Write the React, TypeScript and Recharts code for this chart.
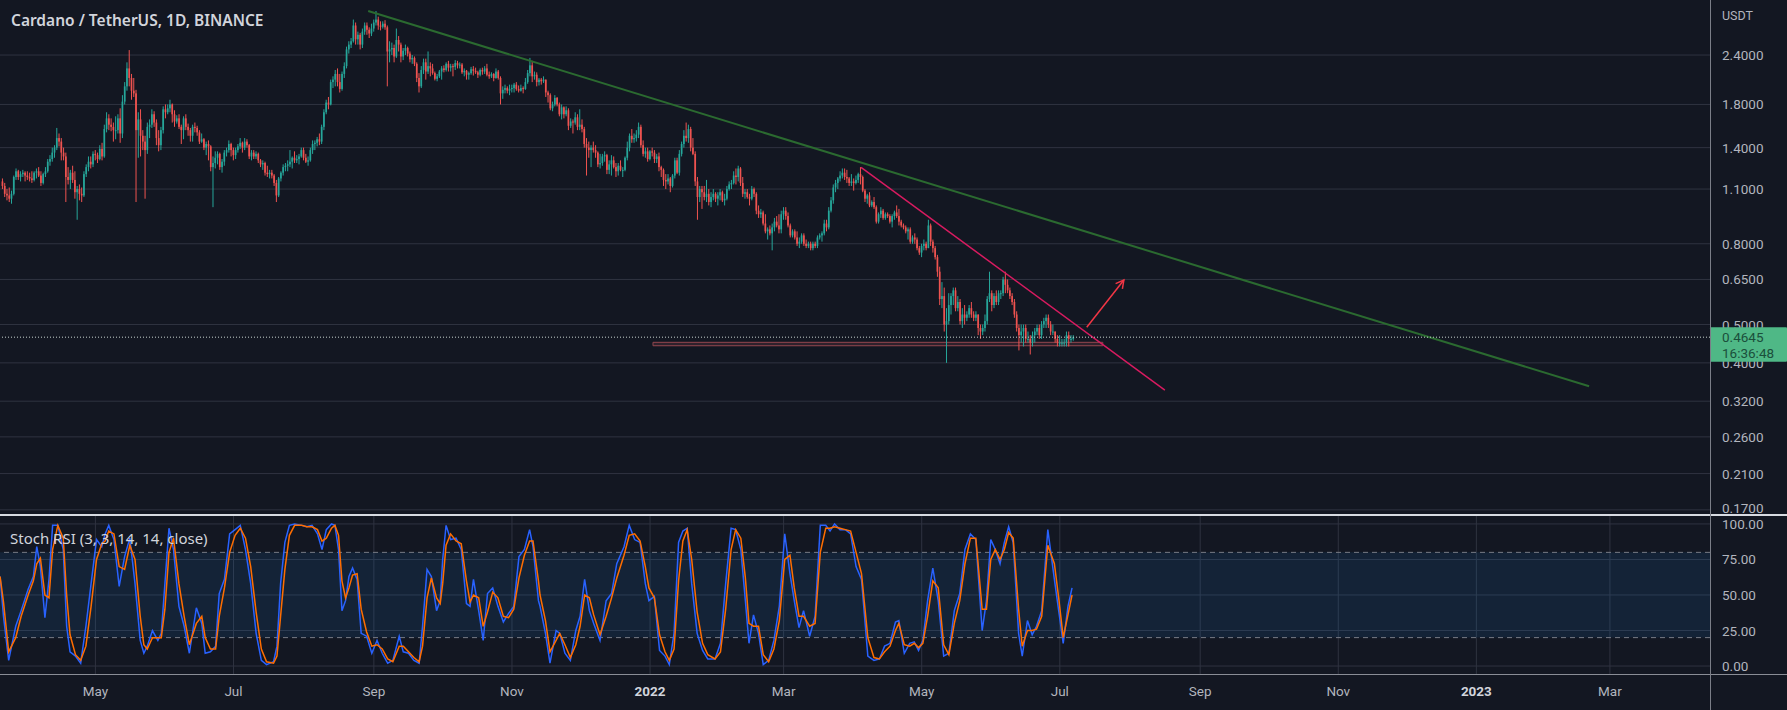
import React from 'react';
import { ComposedChart, Bar, Line, XAxis, YAxis, CartesianGrid, ReferenceLine, ReferenceArea } from 'recharts';

// layout
const W = 1787;
const PRICE_H = 515;
const RSI_H = 195;
const AXIS_W = 77;

const BG = '#131722';
const GRID = '#2f3340';
const TEXT = '#b2b5be';
const UP = '#26a69a';
const DOWN = '#ef5350';
const FONT = 'Roboto, "Noto Sans", sans-serif';

// days are counted from 2021-05-01
const firstDay = -41; // 2021-03-21
const dayDomain = [-42.14, 713.2];
const monthTicks = [0, 61, 123, 184, 245, 304, 365, 426, 488, 549, 610, 669];
const monthLabels = ['May', 'Jul', 'Sep', 'Nov', '2022', 'Mar', 'May', 'Jul', 'Sep', 'Nov', '2023', 'Mar'];

const priceDomain = [0.165, 3.306];
const priceTicks = [2.4, 1.8, 1.4, 1.1, 0.8, 0.65, 0.5, 0.4, 0.32, 0.26, 0.21, 0.17];
const lastPrice = 0.4645;
const countdown = '16:36:48';

const rsiDomain = [-5.6, 106.3];
const rsiTicks = [0, 25, 50, 75, 100];

// daily candles [open, high, low, close]
const mar2021 = [
  [1.15,1.17,1.10,1.12],[1.12,1.14,1.05,1.07],[1.07,1.10,1.03,1.06],[1.06,1.11,1.02,1.04],[1.04,1.09,1.01,1.07],[1.07,1.19,1.06,1.18],[1.18,1.24,1.16,1.22],
  [1.22,1.23,1.16,1.18],[1.18,1.22,1.15,1.20],[1.20,1.23,1.18,1.21],[1.21,1.22,1.15,1.19],
];
const apr2021 = [
  [1.19,1.22,1.16,1.18],[1.18,1.21,1.15,1.17],[1.17,1.22,1.14,1.16],[1.16,1.22,1.15,1.21],[1.21,1.24,1.17,1.22],[1.22,1.25,1.18,1.19],[1.19,1.22,1.12,1.14],
  [1.14,1.21,1.13,1.20],[1.20,1.25,1.18,1.22],[1.22,1.31,1.21,1.29],[1.29,1.34,1.26,1.31],[1.31,1.40,1.29,1.36],[1.36,1.42,1.32,1.40],[1.40,1.57,1.38,1.48],
  [1.48,1.52,1.41,1.45],[1.45,1.48,1.30,1.36],[1.36,1.40,1.30,1.33],[1.33,1.36,1.02,1.18],[1.18,1.25,1.13,1.16],[1.16,1.23,1.10,1.21],[1.21,1.26,1.14,1.16],
  [1.16,1.22,1.04,1.08],[1.08,1.12,0.92,1.10],[1.10,1.13,1.03,1.07],[1.07,1.11,1.02,1.06],[1.06,1.22,1.05,1.20],[1.20,1.27,1.18,1.25],[1.25,1.33,1.22,1.29],
  [1.29,1.33,1.24,1.27],[1.27,1.37,1.25,1.35],
];
const may2021 = [
  [1.35,1.38,1.30,1.34],[1.34,1.36,1.28,1.31],[1.31,1.42,1.30,1.39],[1.39,1.44,1.30,1.33],[1.33,1.60,1.32,1.56],[1.56,1.72,1.53,1.66],[1.66,1.70,1.55,1.60],
  [1.60,1.66,1.54,1.58],[1.58,1.62,1.45,1.55],[1.55,1.68,1.47,1.55],[1.55,1.70,1.52,1.66],[1.66,1.76,1.44,1.52],[1.52,1.90,1.48,1.83],[1.83,2.05,1.80,2.00],
  [2.00,2.30,1.95,2.22],[2.22,2.47,2.00,2.10],[2.10,2.15,1.85,1.95],[1.95,2.10,1.88,1.92],[1.92,1.96,1.02,1.55],[1.55,1.72,1.32,1.65],[1.65,1.75,1.33,1.50],
  [1.50,1.55,1.38,1.45],[1.45,1.50,1.04,1.38],[1.38,1.62,1.35,1.58],[1.58,1.65,1.48,1.60],[1.60,1.75,1.57,1.70],[1.70,1.73,1.58,1.62],[1.62,1.65,1.42,1.48],
  [1.48,1.55,1.37,1.42],[1.42,1.58,1.38,1.55],[1.55,1.78,1.52,1.75],
];
const jun2021 = [
  [1.75,1.80,1.66,1.72],[1.72,1.80,1.70,1.76],[1.76,1.85,1.72,1.80],[1.80,1.81,1.62,1.70],[1.70,1.74,1.58,1.63],[1.63,1.69,1.61,1.66],[1.66,1.70,1.56,1.58],
  [1.58,1.60,1.43,1.55],[1.55,1.68,1.47,1.66],[1.66,1.70,1.55,1.58],[1.58,1.61,1.50,1.55],[1.55,1.57,1.45,1.50],[1.50,1.60,1.45,1.58],[1.58,1.62,1.53,1.57],
  [1.57,1.59,1.50,1.53],[1.53,1.55,1.43,1.45],[1.45,1.52,1.44,1.47],[1.47,1.48,1.38,1.40],[1.40,1.45,1.34,1.43],[1.43,1.46,1.30,1.41],[1.41,1.42,1.22,1.25],
  [1.25,1.33,0.99,1.28],[1.28,1.37,1.24,1.32],[1.32,1.37,1.27,1.35],[1.35,1.36,1.23,1.25],[1.25,1.31,1.21,1.29],[1.29,1.38,1.26,1.36],[1.36,1.40,1.33,1.38],
  [1.38,1.46,1.36,1.43],[1.43,1.44,1.33,1.38],
];
const jul2021 = [
  [1.38,1.40,1.30,1.34],[1.34,1.40,1.31,1.38],[1.38,1.43,1.36,1.41],[1.41,1.48,1.39,1.44],[1.44,1.45,1.36,1.40],[1.40,1.48,1.38,1.45],[1.45,1.47,1.40,1.42],
  [1.42,1.43,1.31,1.33],[1.33,1.38,1.30,1.36],[1.36,1.38,1.31,1.33],[1.33,1.37,1.31,1.35],[1.35,1.36,1.28,1.30],[1.30,1.31,1.25,1.27],[1.27,1.30,1.23,1.28],
  [1.28,1.29,1.19,1.21],[1.21,1.26,1.18,1.20],[1.20,1.23,1.17,1.21],[1.21,1.23,1.17,1.19],[1.19,1.20,1.12,1.14],[1.14,1.16,1.02,1.06],[1.06,1.18,1.05,1.17],
  [1.17,1.22,1.15,1.21],[1.21,1.27,1.19,1.25],[1.25,1.28,1.22,1.26],[1.26,1.30,1.22,1.27],[1.27,1.38,1.25,1.29],[1.29,1.33,1.24,1.32],[1.32,1.37,1.28,1.30],
  [1.30,1.34,1.28,1.31],[1.31,1.35,1.27,1.33],[1.33,1.40,1.32,1.38],
];
const aug2021 = [
  [1.38,1.40,1.30,1.32],[1.32,1.35,1.28,1.29],[1.29,1.33,1.26,1.30],[1.30,1.40,1.29,1.38],[1.38,1.46,1.35,1.43],[1.43,1.46,1.38,1.44],[1.44,1.49,1.41,1.47],
  [1.47,1.52,1.42,1.45],[1.45,1.60,1.43,1.58],[1.58,1.75,1.55,1.72],[1.72,1.85,1.70,1.82],[1.82,1.88,1.75,1.80],[1.80,2.08,1.79,2.05],[2.05,2.12,1.98,2.08],
  [2.08,2.20,2.00,2.15],[2.15,2.22,2.00,2.05],[2.05,2.15,1.93,1.97],[1.97,2.18,1.95,2.15],[2.15,2.30,2.10,2.25],[2.25,2.52,2.22,2.48],[2.48,2.60,2.42,2.55],
  [2.55,2.65,2.50,2.60],[2.60,2.95,2.58,2.85],[2.85,2.90,2.55,2.63],[2.63,2.75,2.55,2.70],[2.70,2.73,2.48,2.55],[2.55,2.80,2.50,2.75],[2.75,2.90,2.70,2.85],
  [2.85,2.90,2.70,2.78],[2.78,2.82,2.65,2.72],[2.72,2.88,2.68,2.80],
];
const sep2021 = [
  [2.80,2.95,2.75,2.90],[2.90,3.10,2.85,2.95],[2.95,3.00,2.78,2.85],[2.85,2.92,2.77,2.83],[2.83,2.92,2.80,2.88],[2.88,2.94,2.78,2.82],[2.82,2.85,2.00,2.45],
  [2.45,2.60,2.30,2.48],[2.48,2.58,2.40,2.50],[2.50,2.55,2.30,2.38],[2.38,2.80,2.36,2.62],[2.62,2.68,2.45,2.55],[2.55,2.58,2.30,2.38],[2.38,2.50,2.33,2.46],
  [2.46,2.55,2.40,2.50],[2.50,2.52,2.38,2.42],[2.42,2.45,2.30,2.34],[2.34,2.40,2.28,2.36],[2.36,2.38,2.25,2.28],[2.28,2.30,2.05,2.10],[2.10,2.16,1.93,2.00],
  [2.00,2.25,1.98,2.20],[2.20,2.35,2.15,2.30],[2.30,2.35,2.08,2.18],[2.18,2.45,2.15,2.25],[2.25,2.30,2.12,2.22],[2.22,2.28,2.14,2.16],[2.16,2.18,2.07,2.09],
  [2.09,2.15,2.06,2.12],[2.12,2.20,2.10,2.18],
];
const oct2021 = [
  [2.18,2.25,2.08,2.22],[2.22,2.26,2.17,2.20],[2.20,2.30,2.18,2.28],[2.28,2.32,2.18,2.23],[2.23,2.28,2.18,2.25],[2.25,2.28,2.12,2.24],[2.24,2.33,2.20,2.29],
  [2.29,2.32,2.22,2.26],[2.26,2.30,2.22,2.27],[2.27,2.29,2.15,2.17],[2.17,2.22,2.12,2.19],[2.19,2.20,2.08,2.14],[2.14,2.18,2.08,2.16],[2.16,2.24,2.14,2.21],
  [2.21,2.25,2.13,2.19],[2.19,2.23,2.15,2.17],[2.17,2.19,2.10,2.14],[2.14,2.22,2.12,2.20],[2.20,2.23,2.14,2.18],[2.18,2.25,2.15,2.22],[2.22,2.28,2.12,2.14],
  [2.14,2.18,2.09,2.12],[2.12,2.17,2.10,2.15],[2.15,2.16,2.06,2.10],[2.10,2.22,2.09,2.18],[2.18,2.20,2.08,2.10],[2.10,2.12,1.80,1.92],[1.92,2.00,1.86,1.96],
  [1.96,2.02,1.92,1.98],[1.98,2.00,1.92,1.95],[1.95,2.02,1.90,1.97],
];
const nov2021 = [
  [1.97,2.02,1.93,1.98],[1.98,2.04,1.93,2.02],[2.02,2.05,1.95,1.97],[1.97,2.01,1.93,1.95],[1.95,2.02,1.94,1.98],[1.98,2.00,1.92,1.97],[1.97,2.10,1.96,2.05],
  [2.05,2.20,2.03,2.16],[2.16,2.36,2.12,2.26],[2.26,2.32,2.05,2.12],[2.12,2.18,2.08,2.14],[2.14,2.17,2.00,2.05],[2.05,2.10,2.01,2.08],[2.08,2.10,2.02,2.06],
  [2.06,2.12,2.04,2.08],[2.08,2.08,1.88,1.93],[1.93,1.95,1.82,1.90],[1.90,1.92,1.74,1.76],[1.76,1.83,1.73,1.80],[1.80,1.90,1.78,1.87],[1.87,1.88,1.78,1.80],
  [1.80,1.82,1.68,1.70],[1.70,1.80,1.65,1.77],[1.77,1.78,1.66,1.70],[1.70,1.78,1.68,1.74],[1.74,1.76,1.55,1.59],[1.59,1.66,1.57,1.63],[1.63,1.65,1.52,1.62],
  [1.62,1.72,1.60,1.67],[1.67,1.70,1.55,1.58],
];
const dec2021 = [
  [1.58,1.75,1.55,1.60],[1.60,1.65,1.53,1.56],[1.56,1.58,1.40,1.43],[1.43,1.48,1.19,1.40],[1.40,1.45,1.32,1.38],[1.38,1.42,1.25,1.40],[1.40,1.45,1.36,1.38],
  [1.38,1.42,1.32,1.36],[1.36,1.37,1.25,1.27],[1.27,1.35,1.24,1.28],[1.28,1.35,1.26,1.33],[1.33,1.37,1.29,1.34],[1.34,1.35,1.20,1.23],[1.23,1.30,1.20,1.27],
  [1.27,1.34,1.19,1.30],[1.30,1.33,1.24,1.25],[1.25,1.28,1.18,1.22],[1.22,1.28,1.19,1.26],[1.26,1.30,1.22,1.23],[1.23,1.25,1.18,1.23],[1.23,1.33,1.22,1.32],
  [1.32,1.45,1.30,1.40],[1.40,1.52,1.37,1.50],[1.50,1.56,1.44,1.47],[1.47,1.52,1.44,1.48],[1.48,1.55,1.45,1.51],[1.51,1.62,1.48,1.58],[1.58,1.60,1.40,1.42],
  [1.42,1.46,1.33,1.35],[1.35,1.40,1.32,1.37],[1.37,1.40,1.29,1.31],
];
const jan2022 = [
  [1.31,1.38,1.30,1.37],[1.37,1.40,1.33,1.36],[1.36,1.38,1.28,1.31],[1.31,1.35,1.28,1.33],[1.33,1.36,1.22,1.25],[1.25,1.26,1.18,1.23],[1.23,1.24,1.12,1.16],
  [1.16,1.20,1.10,1.15],[1.15,1.20,1.13,1.17],[1.17,1.18,1.08,1.12],[1.12,1.20,1.11,1.19],[1.19,1.32,1.17,1.30],[1.30,1.32,1.20,1.21],[1.21,1.38,1.19,1.35],
  [1.35,1.45,1.33,1.43],[1.43,1.55,1.40,1.50],[1.50,1.62,1.45,1.48],[1.48,1.60,1.44,1.56],[1.56,1.58,1.37,1.40],[1.40,1.48,1.34,1.35],[1.35,1.37,1.12,1.15],
  [1.15,1.18,0.92,1.05],[1.05,1.12,1.02,1.10],[1.10,1.12,0.98,1.08],[1.08,1.12,1.03,1.05],[1.05,1.16,1.02,1.07],[1.07,1.10,1.00,1.02],[1.02,1.08,0.99,1.05],
  [1.05,1.10,1.03,1.07],[1.07,1.08,1.02,1.04],[1.04,1.08,1.00,1.06],
];
const feb2022 = [
  [1.06,1.10,1.03,1.08],[1.08,1.09,1.02,1.03],[1.03,1.07,1.00,1.04],[1.04,1.12,1.03,1.10],[1.10,1.15,1.09,1.13],[1.13,1.16,1.10,1.14],[1.14,1.22,1.13,1.19],
  [1.19,1.24,1.13,1.18],[1.18,1.26,1.15,1.24],[1.24,1.25,1.12,1.14],[1.14,1.18,1.05,1.07],[1.07,1.10,1.04,1.08],[1.08,1.10,1.04,1.05],[1.05,1.07,1.00,1.04],
  [1.04,1.12,1.03,1.10],[1.10,1.11,1.05,1.07],[1.07,1.08,0.95,0.97],[0.97,1.00,0.93,0.95],[0.95,0.98,0.93,0.96],[0.96,0.97,0.89,0.90],[0.90,0.95,0.85,0.86],
  [0.86,0.88,0.82,0.87],[0.87,0.89,0.84,0.85],[0.85,0.90,0.77,0.88],[0.88,0.93,0.86,0.91],[0.91,0.94,0.88,0.89],[0.89,0.95,0.85,0.87],[0.87,0.97,0.85,0.95],
];
const mar2022 = [
  [0.95,0.99,0.92,0.97],[0.97,0.99,0.92,0.94],[0.94,0.96,0.88,0.89],[0.89,0.90,0.83,0.84],[0.84,0.87,0.83,0.86],[0.86,0.87,0.82,0.83],[0.83,0.86,0.79,0.80],
  [0.80,0.83,0.78,0.81],[0.81,0.85,0.80,0.84],[0.84,0.85,0.79,0.80],[0.80,0.82,0.78,0.79],[0.79,0.81,0.78,0.80],[0.80,0.81,0.77,0.78],[0.78,0.81,0.77,0.80],
  [0.80,0.81,0.78,0.79],[0.79,0.84,0.78,0.83],[0.83,0.85,0.82,0.84],[0.84,0.86,0.81,0.85],[0.85,0.92,0.84,0.90],[0.90,0.92,0.86,0.88],[0.88,0.99,0.87,0.97],
  [0.97,1.05,0.96,1.03],[1.03,1.13,1.01,1.11],[1.11,1.16,1.08,1.14],[1.14,1.18,1.10,1.17],[1.17,1.22,1.15,1.19],[1.19,1.24,1.17,1.21],[1.21,1.24,1.16,1.18],
  [1.18,1.23,1.14,1.17],[1.17,1.18,1.12,1.14],[1.14,1.20,1.12,1.15],
];
const apr2022 = [
  [1.15,1.17,1.09,1.14],[1.14,1.19,1.13,1.16],[1.16,1.21,1.14,1.20],[1.20,1.25,1.13,1.18],[1.18,1.19,1.08,1.09],[1.09,1.10,1.02,1.04],[1.04,1.07,1.01,1.06],
  [1.06,1.08,0.99,1.00],[1.00,1.03,0.99,1.02],[1.02,1.05,0.98,0.99],[0.99,1.00,0.90,0.91],[0.91,0.96,0.90,0.95],[0.95,0.99,0.93,0.97],[0.97,0.98,0.92,0.93],
  [0.93,0.96,0.92,0.95],[0.95,0.96,0.93,0.94],[0.94,0.95,0.90,0.91],[0.91,0.95,0.88,0.94],[0.94,0.97,0.92,0.96],[0.96,1.00,0.93,0.94],[0.94,0.98,0.89,0.91],
  [0.91,0.92,0.88,0.89],[0.89,0.90,0.87,0.88],[0.88,0.89,0.85,0.86],[0.86,0.88,0.82,0.87],[0.87,0.88,0.80,0.81],[0.81,0.84,0.80,0.83],[0.83,0.85,0.80,0.82],
  [0.82,0.83,0.77,0.78],[0.78,0.79,0.75,0.76],
];
const may2022 = [
  [0.76,0.80,0.74,0.79],[0.79,0.82,0.77,0.80],[0.80,0.81,0.77,0.78],[0.78,0.92,0.78,0.89],[0.89,0.90,0.79,0.81],[0.81,0.82,0.76,0.78],[0.78,0.79,0.73,0.74],
  [0.74,0.75,0.66,0.68],[0.68,0.70,0.56,0.58],[0.58,0.64,0.55,0.59],[0.59,0.62,0.48,0.50],[0.50,0.55,0.40,0.51],[0.51,0.60,0.50,0.56],[0.56,0.60,0.53,0.59],
  [0.59,0.62,0.56,0.61],[0.61,0.62,0.54,0.55],[0.55,0.59,0.54,0.57],[0.57,0.58,0.50,0.51],[0.51,0.55,0.49,0.53],[0.53,0.56,0.50,0.52],[0.52,0.54,0.51,0.53],
  [0.53,0.56,0.52,0.55],[0.55,0.57,0.52,0.53],[0.53,0.54,0.51,0.52],[0.52,0.54,0.51,0.53],[0.53,0.53,0.47,0.49],[0.49,0.50,0.46,0.48],[0.48,0.50,0.47,0.49],
  [0.49,0.53,0.48,0.51],[0.51,0.59,0.50,0.58],[0.58,0.68,0.57,0.60],
];
const jun2022 = [
  [0.60,0.61,0.54,0.56],[0.56,0.60,0.55,0.59],[0.59,0.61,0.56,0.57],[0.57,0.61,0.56,0.60],[0.60,0.61,0.58,0.60],[0.60,0.66,0.59,0.65],[0.65,0.68,0.60,0.63],
  [0.63,0.65,0.60,0.61],[0.61,0.62,0.58,0.59],[0.59,0.60,0.56,0.57],[0.57,0.58,0.52,0.53],[0.53,0.54,0.48,0.49],[0.49,0.50,0.43,0.47],[0.47,0.50,0.45,0.48],
  [0.48,0.50,0.44,0.49],[0.49,0.50,0.45,0.46],[0.46,0.48,0.45,0.46],[0.46,0.47,0.42,0.45],[0.45,0.48,0.44,0.47],[0.47,0.49,0.45,0.48],[0.48,0.50,0.47,0.49],
  [0.49,0.50,0.46,0.47],[0.47,0.51,0.46,0.50],[0.50,0.52,0.49,0.51],[0.51,0.53,0.49,0.52],[0.52,0.53,0.49,0.50],[0.50,0.51,0.47,0.48],[0.48,0.50,0.47,0.48],
  [0.48,0.48,0.45,0.46],[0.46,0.47,0.44,0.45],
];
const jul2022 = [
  [0.45,0.47,0.44,0.45],[0.45,0.46,0.44,0.45],[0.45,0.46,0.44,0.45],[0.45,0.48,0.44,0.47],[0.47,0.48,0.44,0.46],[0.46,0.47,0.45,0.46],[0.46,0.47,0.455,0.4645],
];

// Stoch RSI (K blue, D orange), sampled along the pane
const rsiDays = [
  -42.1,-40.6,-38.3,-35.2,-32.8,-29.7,-27.4,-25.9,-24.3,-22.3,-20.5,-18.9,-16.6,-14.2,-12.7,-11.2,-8.8,-6.5,-4.2,-1.9,
  0.5,2.8,4.3,5.9,8.2,10.5,12.9,15.2,17.5,19.8,21.4,22.9,25.2,27.6,29.1,30.7,32.5,34.5,36.9,39.2,
  41.5,44.6,47.0,48.5,50.8,53.1,54.7,57.0,59.3,61.7,64.0,66.3,68.6,71.0,73.3,75.6,78.7,80.2,81.8,83.7,
  85.7,88.0,91.1,93.4,95.7,98.1,100.1,102.0,104.3,105.8,107.4,108.9,110.5,112.0,113.6,115.6,117.4,119.8,122.1,124.4,
  126.7,129.1,131.4,134.2,136.0,138.3,140.7,143.0,144.5,146.5,148.4,150.7,152.3,153.4,154.9,156.9,159.3,161.6,163.9,165.5,
  167.0,169.3,171.3,173.2,175.5,177.8,180.2,182.5,184.8,187.1,189.5,191.8,193.3,195.7,
  196.4,198.8,200.8,203.5,205.1,207.4,209.8,212.2,214.1,216.1,218.2,220.1,222.9,225.6,228.0,230.3,233.5,235.8,238.2,240.6,
  242.9,244.5,246.9,249.2,251.6,253.5,255.6,257.6,259.5,261.4,263.4,265.8,268.2,270.5,273.7,276.1,278.4,280.8,282.8,285.1,
  287.1,288.7,290.7,292.9,295.0,297.4,299.7,302.1,304.5,306.8,308.7,310.8,312.8,315.5,317.9,320.2,322.6,324.5,326.5,328.9,
  331.3,333.6,336.0,338.4,341.2,343.9,346.3,348.6,351.0,353.4,354.9,357.3,359.7,361.7,363.6,365.5,367.6,369.9,372.3,374.7,
  377.0,379.4,381.8,384.1,386.5,388.9,391.7,393.6,395.5,397.5,399.6,401.5,403.4,405.4,407.8,409.4,411.7,413.8,415.7,418.0,
  420.7,423.6,425.5,427.5,429.6,431.4,
];
const rsiK = [
  63,35,4,28,39,54,63,84,70,34,61,99,99,82,28,10,7,2,28,58,
  89,84,93,99,89,56,77,90,58,18,9,14,25,18,23,58,97,82,42,28,
  9,41,30,9,10,14,51,61,93,96,99,82,58,23,4,1,3,14,58,87,
  99,100,99,98,99,93,82,96,100,99,82,39,46,63,69,61,23,21,9,18,
  9,2,4,21,10,9,4,2,28,68,63,39,46,75,99,89,90,82,44,42,
  61,39,18,51,55,42,31,37,42,77,82,96,84,46,
  42,23,2,25,23,9,4,25,35,61,39,30,18,46,51,72,84,99,89,87,
  58,46,49,11,7,1,23,87,95,97,58,23,11,5,5,16,58,97,96,82,
  46,16,36,23,1,4,18,42,93,65,46,27,39,21,35,99,99,95,100,96,
  96,93,70,61,7,4,5,14,16,31,32,9,16,17,11,18,46,69,46,7,
  9,39,51,82,93,89,25,46,89,82,72,87,98,87,23,7,32,22,28,39,
  96,61,39,16,42,55,
];
const rsiD = [
  63,45,10,20,35,50,60,72,76,50,48,82,99,90,50,22,8,4,14,42,
  75,86,88,95,93,70,68,85,75,35,15,12,20,20,20,40,80,90,58,35,
  15,30,35,20,12,12,35,55,80,92,97,90,70,38,12,3,2,7,35,68,
  92,99,99,98,98,96,88,90,97,99,92,60,48,55,64,65,40,24,14,15,
  12,5,3,14,14,10,6,3,14,48,62,48,44,58,85,93,88,86,60,45,
  50,48,28,38,52,48,35,34,40,62,78,88,88,60,
  50,32,10,18,23,15,6,15,28,50,48,36,22,35,48,62,78,92,93,88,
  70,55,48,22,10,4,12,60,88,96,75,38,16,8,5,10,40,82,96,90,
  62,30,28,28,8,3,12,32,75,78,55,35,35,28,30,80,97,97,98,97,
  96,95,80,65,20,6,5,10,14,25,30,15,14,16,13,16,35,60,55,15,
  8,30,46,72,90,90,40,40,75,82,75,82,94,90,40,14,25,25,26,35,
  85,72,48,20,36,50,
];

// drawings: [day, price]
const greenTrend = [[120.5, 3.10], [659.8, 0.349]];
const pinkTrend = [[338.2, 1.248], [472.4, 0.3415]];
const breakoutArrow = [[437.9, 0.4919], [454.3, 0.6478]];
const supportZone = { from: 246.3, to: 445, low: 0.4419, high: 0.4508 };

const candleData = [
  mar2021, apr2021, may2021, jun2021, jul2021, aug2021, sep2021, oct2021, nov2021,
  dec2021, jan2022, feb2022, mar2022, apr2022, may2022, jun2022, jul2022,
].flat().map(([o, h, l, c], i) => ({ t: firstDay + i, o, h, l, c, range: [l, h] }));

const rsiData = rsiDays.map((t, i) => ({ t, k: rsiK[i], d: rsiD[i] }));

const seg = (pts: number[][]) => pts.map(([x, y]) => ({ x, y }));

const Candle = (props: any) => {
  const { x, y, width, height, payload } = props;
  if (x == null || y == null) return null;
  const { o, h, l, c } = payload;
  const yTop = Math.min(y, y + height);
  const yBot = Math.max(y, y + height);
  const span = Math.log(h) - Math.log(l);
  const py = (v: number) => (span > 0 ? yTop + ((Math.log(h) - Math.log(v)) / span) * (yBot - yTop) : yTop);
  const color = c >= o ? UP : DOWN;
  const cx = x + width / 2;
  const b1 = py(Math.max(o, c));
  const b2 = py(Math.min(o, c));
  return (
    <g>
      <line x1={cx} x2={cx} y1={yTop} y2={yBot} stroke={color} strokeWidth={1} />
      <rect x={cx - 0.85} y={b1} width={1.7} height={Math.max(b2 - b1, 1)} fill={color} />
    </g>
  );
};

const Arrow = (props: any) => {
  const { x1, y1, x2, y2, stroke } = props;
  if (x1 == null) return null;
  const ang = Math.atan2(y2 - y1, x2 - x1);
  const len = 9;
  const sp = 0.5;
  const ax = x2 - len * Math.cos(ang - sp);
  const ay = y2 - len * Math.sin(ang - sp);
  const bx = x2 - len * Math.cos(ang + sp);
  const by = y2 - len * Math.sin(ang + sp);
  return (
    <g>
      <line x1={x1} y1={y1} x2={x2} y2={y2} stroke={stroke} strokeWidth={1.5} />
      <polyline points={`${ax},${ay} ${x2},${y2} ${bx},${by}`} fill="none" stroke={stroke} strokeWidth={1.5} />
    </g>
  );
};

const PriceTick = (props: any) => {
  const { x, y, payload } = props;
  if (payload.value === lastPrice) {
    return (
      <g>
        <rect x={x - 12} y={y - 10} width={W - (x - 12)} height={34.5} fill="#4fb886" rx={1} />
        <text x={x} y={y + 5} fill="#1b4f3b" fontSize={13.5} fontFamily={FONT}>{lastPrice.toFixed(4)}</text>
        <text x={x} y={y + 21} fill="#1b4f3b" fontSize={13.5} fontFamily={FONT}>{countdown}</text>
      </g>
    );
  }
  // lowest label sits on the pane separator, lift it just enough to stay inside
  const dy = payload.value === priceTicks[priceTicks.length - 1] ? 3.5 : 5;
  return (
    <text x={x} y={y + dy} fill={TEXT} fontSize={13.5} fontFamily={FONT}>{payload.value.toFixed(4)}</text>
  );
};

const RsiTick = (props: any) => {
  const { x, y, payload } = props;
  return (
    <text x={x} y={y + 5} fill={TEXT} fontSize={13.5} fontFamily={FONT}>{payload.value.toFixed(2)}</text>
  );
};

const MonthTick = (props: any) => {
  const { x, y, payload } = props;
  const label = monthLabels[monthTicks.indexOf(payload.value)];
  const bold = /^\d+$/.test(label);
  return (
    <text x={x} y={y + 13.5} textAnchor="middle" fill={bold ? '#d1d4dc' : TEXT} fontSize={13.5}
      fontWeight={bold ? 700 : 400} fontFamily={FONT}>{label}</text>
  );
};

const abs = (s: React.CSSProperties): React.CSSProperties => ({ position: 'absolute', ...s });

export default function App() {
  return (
    <div style={{ position: 'absolute', left: 0, top: 0, width: W, height: 710, background: BG, overflow: 'hidden' }}>
      <div style={abs({ left: 0, top: 0 })}>
        <ComposedChart width={W} height={PRICE_H} data={candleData} margin={{ top: 0, right: 0, bottom: 0, left: 0 }}>
          <CartesianGrid stroke={GRID} verticalValues={monthTicks} horizontalValues={priceTicks} />
          <XAxis dataKey="t" type="number" domain={dayDomain} allowDataOverflow ticks={monthTicks}
            height={0} tick={false} axisLine={false} tickLine={false} />
          <YAxis orientation="right" width={AXIS_W} scale="log" domain={priceDomain} allowDataOverflow
            ticks={[...priceTicks, lastPrice]} interval={0} tick={PriceTick} tickLine={false} axisLine={false}
            tickSize={6} tickMargin={6} />
          <ReferenceArea x1={supportZone.from} x2={supportZone.to} y1={supportZone.low} y2={supportZone.high}
            fill="#9c4a52" fillOpacity={0.22} stroke="#93474f" strokeWidth={1} />
          <Bar dataKey="range" barSize={2} shape={Candle} isAnimationActive={false} />
          <ReferenceLine segment={seg(greenTrend)} stroke="#2b6a30" strokeWidth={2} />
          <ReferenceLine segment={seg(pinkTrend)} stroke="#d81b60" strokeWidth={1.5} />
          <ReferenceLine segment={seg(breakoutArrow)} stroke="#f23645" shape={Arrow} />
          <ReferenceLine y={lastPrice} stroke="#c9d4d0" strokeDasharray="1 2" strokeWidth={1} />
        </ComposedChart>
      </div>
      <div style={abs({ left: 0, top: PRICE_H })}>
        <ComposedChart width={W} height={RSI_H} data={rsiData} margin={{ top: 0, right: 0, bottom: 0, left: 0 }}>
          <CartesianGrid stroke={GRID} verticalValues={monthTicks} horizontalValues={rsiTicks} />
          <XAxis dataKey="t" type="number" domain={dayDomain} allowDataOverflow ticks={monthTicks} interval={0}
            height={36} tick={MonthTick} tickLine={false} axisLine={false} />
          <YAxis orientation="right" width={AXIS_W} domain={rsiDomain} allowDataOverflow ticks={rsiTicks}
            interval={0} tick={RsiTick} tickLine={false} axisLine={false} tickSize={6} tickMargin={6} />
          <ReferenceArea y1={20} y2={80} fill="#2196f3" fillOpacity={0.1} stroke="none" />
          <ReferenceLine y={80} stroke="#787b86" strokeDasharray="5 4" />
          <ReferenceLine y={20} stroke="#787b86" strokeDasharray="5 4" />
          <Line dataKey="k" type="linear" stroke="#2962ff" strokeWidth={1.5} dot={false} isAnimationActive={false} />
          <Line dataKey="d" type="linear" stroke="#ff6d00" strokeWidth={1.5} dot={false} isAnimationActive={false} />
        </ComposedChart>
      </div>
      {/* pane frame */}
      <div style={abs({ left: 0, top: 514, width: W, height: 2, background: '#d8dbe2' })} />
      <div style={abs({ left: 0, top: 674, width: W, height: 1, background: '#8a8d96' })} />
      <div style={abs({ left: 1710, top: 0, width: 1, height: 710, background: '#7b7e88' })} />
      <div style={abs({ left: 11, top: 10, color: '#d1d4dc', fontFamily: '"Noto Sans", sans-serif', fontSize: 15.5,
        fontWeight: 600, lineHeight: '20px', whiteSpace: 'nowrap' })}>Cardano / TetherUS, 1D, BINANCE</div>
      <div style={abs({ left: 1722, top: 8, color: TEXT, fontFamily: FONT, fontSize: 12.5, lineHeight: '16px' })}>USDT</div>
      <div style={abs({ left: 10, top: 528, color: '#d1d4dc', fontFamily: '"Noto Sans", sans-serif', fontSize: 15,
        lineHeight: '20px', whiteSpace: 'nowrap' })}>Stoch RSI (3, 3, 14, 14, close)</div>
    </div>
  );
}
